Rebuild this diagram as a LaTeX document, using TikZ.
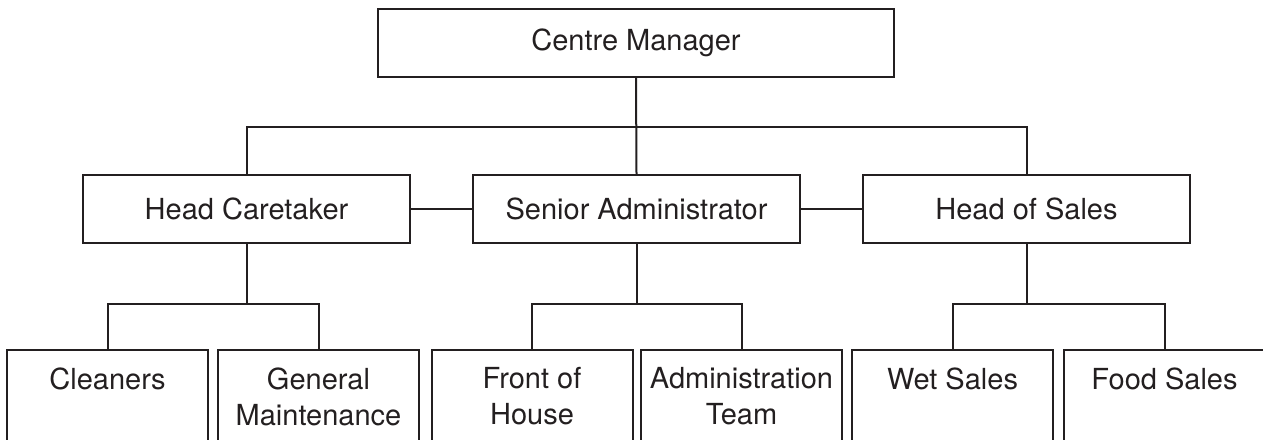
\documentclass[tikz,border=0pt]{standalone}
\usepackage{fontspec}
\setmainfont{TeX Gyre Heros}
\usepackage{tikz}
\usetikzlibrary{positioning}
\definecolor{CInk}{HTML}{231F20}
\tikzset{
    topblock/.style={
        rectangle,
        draw=CInk,
        text=CInk,
        minimum width=258pt,
        minimum height=34pt,
        font=\fontsize{14.5}{18}\selectfont,
        line width=1pt
    },
    headblock/.style={
        topblock,
        minimum width=163.5pt
    },
    subtext/.style={
        anchor=north,
        inner sep=0pt,
        yshift=-9pt,
        align=center,
        text=CInk,
        font=\fontsize{14.5}{18}\selectfont
    },
    teamblock/.style={
        rectangle,
        draw=CInk,
        anchor=north,
        minimum width=100.5pt,
        minimum height=65pt,
        line width=1pt,
        label={[subtext]north:#1}
    },
    orgline/.style={
        draw=CInk,
        line width=1pt
    }
}

\begin{document}
\begin{tikzpicture}[x=0.5pt, y=-0.5pt]
    \useasboundingbox (0,0) rectangle (1263,439);
    \clip (0,0) rectangle (1263,439);

    % Manager
    \node[topblock] (boss) at (636,43) {Centre Manager};

    % Heads
    \node[headblock] (caretaker) at (246.5,209) {Head Caretaker};
    \node[headblock] (admin) at (636.5,209) {Senior Administrator};
    \node[headblock] (sales) at (1026.5,209) {Head of Sales};

    % Teams
    \node[teamblock={Cleaners}] (cleaners) at (107.5,349) {};
    \node[teamblock={General\\Maintenance}] (maint) at (318.5,349) {};
    \node[teamblock={Front of\\House}] (front) at (532,349) {};
    \node[teamblock={Administration\\Team}] (adminteam) at (741.5,349) {};
    \node[teamblock={Wet Sales}] (wet) at (952.5,349) {};
    \node[teamblock={Food Sales}] (food) at (1164.5,349) {};

    % Top level links
    \draw[orgline] (boss.south) -- (admin.north);
    \draw[orgline] (caretaker.north) -- ++(0,-47) -| (sales.north);
    \draw[orgline] (caretaker) -- (admin);
    \draw[orgline] (admin) -- (sales);

    % Team links
    \draw[orgline] (caretaker.south) -- ++(0,60) coordinate (cj);
    \draw[orgline] (cleaners.north) |- (cj) -| (maint.north);
    \draw[orgline] (admin.south) -- ++(0,60) coordinate (aj);
    \draw[orgline] (front.north) |- (aj) -| (adminteam.north);
    \draw[orgline] (sales.south) -- ++(0,60) coordinate (sj);
    \draw[orgline] (wet.north) |- (sj) -| (food.north);
\end{tikzpicture}
\end{document}
